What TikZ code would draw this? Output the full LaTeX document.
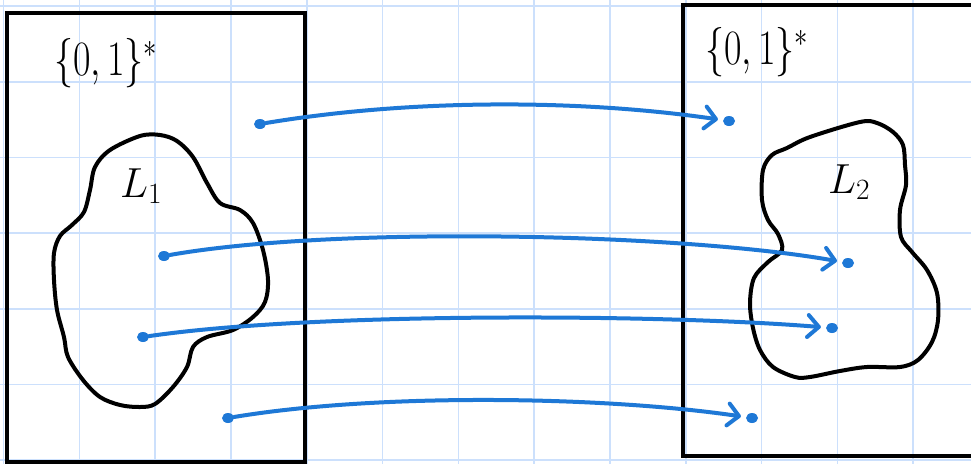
\RequirePackage{fix-cm}
\documentclass[tikz,border=0pt]{standalone}
\usetikzlibrary{arrows.meta}
\definecolor{handblue}{RGB}{30,120,214}
\definecolor{gridblue}{RGB}{204,224,252}
\tikzset{
  gridline/.style={draw=gridblue, line width=1.6pt},
  setbox/.style={draw=black, line width=4.6pt, line join=miter},
  blob/.style={draw=black, line width=4pt, line join=round},
  dotnode/.style={ellipse, fill=handblue, inner sep=0pt, minimum width=12pt, minimum height=10pt},
  mapsto/.style={draw=handblue, line width=4pt, line cap=round,
     -{Straight Barb[length=11pt, width=22pt, line width=4pt, round]}, shorten >=5pt},
  hand/.style={inner sep=0pt, font=\fontsize{38}{42}\selectfont},
  lab/.style={inner sep=0pt, font=\fontsize{42}{46}\selectfont}
}
\usetikzlibrary{shapes.geometric}
\begin{document}
\begin{tikzpicture}[x=1pt, y=-1pt]
\useasboundingbox (0,0) rectangle (971,464);
\fill[white] (0,0) rectangle (971,464);
% grid
\foreach \k in {0,...,12} { \draw[gridline] ({3.5+75.8*\k},0) -- ({3.5+75.8*\k},464); }
\foreach \k in {0,...,6} { \draw[gridline] (0,{6+75.7*\k}) -- (971,{6+75.7*\k}); }
% sets
\draw[setbox] (7,13) rectangle (305,462);
\draw[setbox] (985,5) -- (683,5) -- (683,456) -- (985,456);
\node[hand] (t1) at (106,63) {\scalebox{1}[1.3]{$\{0,1\}^*$}};
\node[hand] (t2) at (757,52) {\scalebox{1}[1.3]{$\{0,1\}^*$}};
% blobs
\draw[blob] plot[smooth cycle, tension=0.55] coordinates {
 (140,136) (160,135) (177,141) (193,157) (207,183) (220,203) (240,210) (253,223)
 (263,250) (268,280) (265,302) (253,317) (233,330) (207,337) (193,347) (187,367)
 (173,387) (155,404) (140,407) (120,405) (100,397) (83,380) (68,357) (64,337)
 (57,310) (54,280) (54,253) (60,236) (72,225) (84,212) (90,190) (95,167) (110,150) };
\draw[blob] plot[smooth cycle, tension=0.55] coordinates {
 (810,137) (860,122) (877,123) (893,132) (903,145) (905,165) (906,185) (900,210)
 (901,237) (912,252) (927,270) (937,293) (938,320) (932,342) (918,360) (900,367)
 (867,367) (840,371) (810,377) (795,377) (773,367) (760,350) (753,328) (750,303)
 (754,278) (768,262) (782,250) (778,234) (768,220) (762,200) (763,170) (772,155) (787,148) };
\node[lab] (l1) at (141,186) {$L_1$};
\node[lab] (l2) at (849,182) {$L_2$};
% elements and map
\node[dotnode] (s1) at (260,124) {};
\node[dotnode] (s2) at (164,256) {};
\node[dotnode] (s3) at (143,337) {};
\node[dotnode] (s4) at (228,418) {};
\node[dotnode] (d1) at (729,121) {};
\node[dotnode] (d2) at (848,263) {};
\node[dotnode] (d3) at (832,328) {};
\node[dotnode] (d4) at (752,418) {};
\draw[mapsto] (s1) .. controls +(150,-25) and +(-150,-22) .. (d1);
\draw[mapsto] (s2) .. controls +(170,-30) and +(-170,-30) .. (d2);
\draw[mapsto] (s3) .. controls +(170,-25) and +(-170,-14) .. (d3);
\draw[mapsto] (s4) .. controls +(150,-25) and +(-150,-22) .. (d4);
\end{tikzpicture}
\end{document}
